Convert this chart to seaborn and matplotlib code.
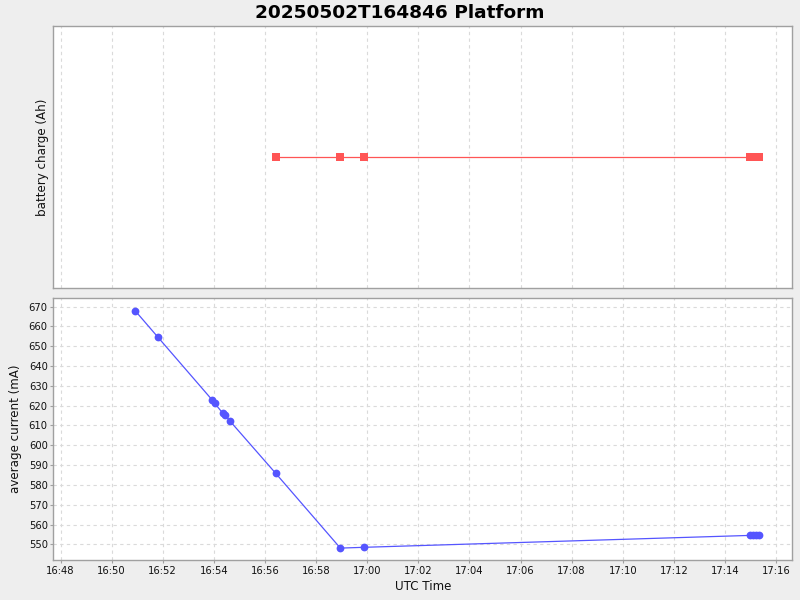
import matplotlib
matplotlib.use("Agg")
import matplotlib.pyplot as plt
import matplotlib.dates as mdates
import seaborn as sns
import pandas as pd

title = "20250502T164846 Platform"
date = "2025-05-02 "

current_times = ["16:50:55", "16:51:49", "16:53:56", "16:54:02", "16:54:21", "16:54:27",
                 "16:54:38", "16:56:25", "16:58:57", "16:59:53", "17:14:58", "17:15:05",
                 "17:15:12", "17:15:19"]
current_ma = [668.0, 654.5, 622.9, 621.2, 616.2, 615.2, 612.2, 585.9, 548.1, 548.5,
              554.5, 554.6, 554.6, 554.6]

charge_times = ["16:56:25", "16:58:57", "16:59:53", "17:14:58", "17:15:05", "17:15:12", "17:15:19"]
charge_ah = [0.0, 0.0, 0.0, 0.0, 0.0, 0.0, 0.0]

df_cur = pd.DataFrame({"t": pd.to_datetime([date + t for t in current_times]), "v": current_ma})
df_chg = pd.DataFrame({"t": pd.to_datetime([date + t for t in charge_times]), "v": charge_ah})

sns.set_theme(style="white")
plt.rcParams["font.family"] = ["DejaVu Sans"]

fig = plt.figure(figsize=(8, 6), dpi=100)
fig.patch.set_facecolor("#EEEEEE")

ax1 = fig.add_axes([0.0666, 0.5195, 0.9237, 0.4367])
ax2 = fig.add_axes([0.0666, 0.0667, 0.9237, 0.4361], sharex=ax1)

sns.lineplot(data=df_chg, x="t", y="v", ax=ax1, color="#FF5555", marker="s",
             markersize=5.6, markeredgewidth=0, linewidth=0.9)
sns.lineplot(data=df_cur, x="t", y="v", ax=ax2, color="#5555FF", marker="o",
             markersize=5.6, markeredgewidth=0, linewidth=0.9)

xmin = pd.Timestamp(date + "16:47:43")
xmax = pd.Timestamp(date + "17:16:38")
ax2.set_xlim(xmin, xmax)
ax1.set_ylim(-1, 1)
ax2.set_ylim(542.1, 674.2)

loc = mdates.MinuteLocator(byminute=range(0, 60, 2))
ax2.xaxis.set_major_locator(loc)
ax2.xaxis.set_major_formatter(mdates.DateFormatter("%H:%M"))
ax2.set_yticks(list(range(550, 680, 10)))

grid_kw = dict(color="#DADADA", linestyle=(0, (3, 3)), linewidth=0.8)
for ax in (ax1, ax2):
    ax.set_facecolor("white")
    for s in ax.spines.values():
        s.set_color("#A0A0A0")
        s.set_linewidth(1.0)
    ax.xaxis.grid(True, **grid_kw)

ax2.yaxis.grid(True, **grid_kw)
ax1.set_yticks([])
ax1.tick_params(axis="x", which="both", bottom=False, labelbottom=False)
ax2.tick_params(axis="both", labelsize=7.2, length=2, width=0.8, color="#A0A0A0",
                bottom=True, left=True, pad=2, labelcolor="#111111")

ax1.set_xlabel("")
ax1.set_ylabel("battery charge (Ah)", fontsize=8.6, labelpad=3, color="#111111")
ax2.set_ylabel("average current (mA)", fontsize=8.6, labelpad=5, color="#111111")
ax2.set_xlabel("UTC Time", fontsize=8.6, labelpad=3, color="#111111")

fig.suptitle(title, fontsize=13.3, fontweight="bold", y=0.993, va="top", color="black")

fig.savefig("out.png", dpi=100, facecolor=fig.get_facecolor())
